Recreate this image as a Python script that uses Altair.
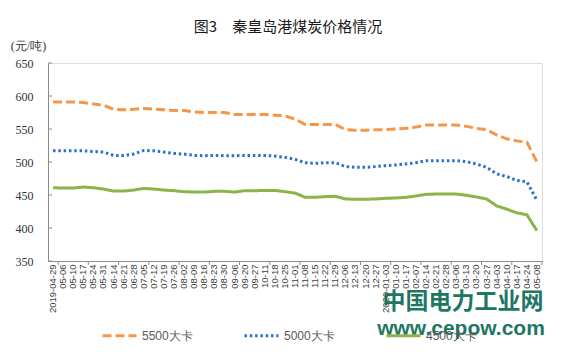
import altair as alt
import pandas as pd

cats = ["2019-04-29", "05-06", "05-10", "05-17", "05-24", "05-31", "06-14", "06-21", "06-28",
        "07-05", "07-12", "07-19", "07-26", "08-02", "08-09", "08-16", "08-23", "08-30",
        "09-06", "09-20", "09-27", "10-11", "10-18", "10-25", "11-01", "11-08", "11-15",
        "11-22", "11-29", "12-06", "12-13", "12-20", "12-27", "2020-01-03", "01-10", "01-17",
        "02-07", "02-14", "02-21", "02-28", "03-06", "03-13", "03-20", "03-27", "04-03",
        "04-10", "04-17", "04-24", "05-08"]

s5500 = [591, 591, 591, 590, 588, 586, 580, 579, 580, 581, 580, 579, 578, 578, 576, 575, 575,
         575, 572, 572, 572, 572, 571, 570, 565, 557, 557, 557, 557, 549, 548, 548, 549, 549,
         550, 551, 553, 556, 556, 556, 556, 554, 551, 549, 541, 535, 532, 530, 500]
s5000 = [517, 517, 517, 517, 516, 515, 510, 510, 512, 517.5, 517, 515, 513, 512, 510, 509.5,
         510, 509.5, 509.5, 510, 510, 510, 509, 507, 504, 499, 498, 499, 499, 493, 492, 492,
         493, 494.5, 495.5, 497, 499, 502, 502, 502, 502, 500.5, 497, 492, 482, 478, 472, 470, 442]
s4500 = [461, 460.5, 460.5, 462, 461, 459, 456, 456, 457.5, 460, 459, 457.5, 456.5, 455, 454.5,
         454.5, 455.5, 455.5, 454.5, 456.5, 456.5, 457, 457, 455, 453, 446.5, 446.5, 447.5, 448,
         444, 443.5, 443.5, 444, 445, 445.5, 446.5, 448.5, 451, 451.5, 451.5, 451.5, 449.5, 447,
         444, 433.5, 428.5, 423, 420, 396]

series_names = ["5500大卡", "5000大卡", "4500大卡"]
colors = ["#f79646", "#2a72c8", "#8cb449"]
dashes = [[9, 4], [2.5, 2.8], [1, 0]]
y_ticks = [350, 400, 450, 500, 550, 600, 650]
x_tick_cats = cats[0::3]
title_text = "图3　秦皇岛港煤炭价格情况"
unit_text = "(元/吨)"
wm1 = ["中国电力工业网"]
wm2 = ["www.cepow.com"]

rows = []
for name, vals in zip(series_names, [s5500, s5000, s4500]):
    for c, v in zip(cats, vals):
        rows.append({"date": c, "price": v, "series": name})
df = pd.DataFrame(rows)

W, H = 494, 198

xscale = alt.Scale(type="band", domain=cats, paddingInner=0, paddingOuter=0)
yscale = alt.Scale(domain=[350, 650], nice=False, zero=False)

xaxis = alt.Axis(labelAngle=270, labelFont="Liberation Sans", labelFontSize=9.5,
                 labelColor="#404040", ticks=False, labelPadding=3, domainColor="#8c8c8c",
                 title=None, labelOverlap=False, grid=False)
yaxis = alt.Axis(values=y_ticks, ticks=False, labelPadding=15, labelFont="Liberation Serif",
                 labelFontSize=12, labelColor="#333333", domainColor="#8c8c8c", grid=False,
                 title=unit_text, titleAngle=0, titleX=-20, titleY=-18, titleAlign="center",
                 titleBaseline="middle", titleFont="Liberation Serif", titleFontSize=12,
                 titleFontWeight="normal", titleColor="#333333")

leg = alt.Legend(title=None, orient="none", legendX=53, legendY=254, direction="horizontal",
                 symbolType="stroke", symbolSize=1156, symbolStrokeWidth=3,
                 labelFont="Liberation Sans", labelFontSize=12, labelColor="#595959",
                 columnPadding=45, labelOffset=4)

lines = alt.Chart(df).mark_line(strokeWidth=3).encode(
    x=alt.X("date:N", scale=xscale, sort=cats, bandPosition=0.5, axis=xaxis),
    y=alt.Y("price:Q", scale=yscale, axis=yaxis),
    color=alt.Color("series:N", scale=alt.Scale(domain=series_names, range=colors), legend=leg),
    strokeDash=alt.StrokeDash("series:N", scale=alt.Scale(domain=series_names, range=dashes), legend=leg),
)

xt = alt.Chart(pd.DataFrame({"date": x_tick_cats})).mark_rule(color="#8c8c8c", strokeWidth=1).encode(
    x=alt.X("date:N", scale=xscale, sort=cats, bandPosition=1, axis=xaxis),
    y=alt.value(H), y2=alt.value(H + 4),
)

yt = alt.Chart(pd.DataFrame({"price": y_ticks})).mark_rule(color="#8c8c8c", strokeWidth=1).encode(
    y=alt.Y("price:Q", scale=yscale, axis=yaxis),
    x=alt.value(0), x2=alt.value(4),
)

w1 = alt.Chart(pd.DataFrame({"t": wm1})).mark_text(
    font="Noto Sans CJK SC", fontSize=23, fontWeight="bold", color="#13705a", opacity=0.95,
    align="center", baseline="middle").encode(
    text="t:N", x=alt.value(415), y=alt.value(239))
w2 = alt.Chart(pd.DataFrame({"t": wm2})).mark_text(
    font="Liberation Sans", fontSize=21, fontWeight="bold", color="#13705a", opacity=0.95,
    align="center", baseline="alphabetic").encode(
    text="t:N", x=alt.value(413), y=alt.value(272))

chart = alt.layer(lines, xt, yt, w1, w2).properties(
    width=W, height=H,
    title=alt.TitleParams(title_text, font="Noto Sans CJK SC", fontSize=15, fontWeight="normal",
                          color="#1a1a1a", anchor="middle", offset=4, dx=-7),
    autosize=alt.AutoSizeParams(type="none"),
    padding={"left": 48, "top": 63, "right": 20, "bottom": 96},
).configure_view(stroke=None).configure(background="white")

chart.save("out.html", embed_options={"renderer": "svg", "actions": False})
